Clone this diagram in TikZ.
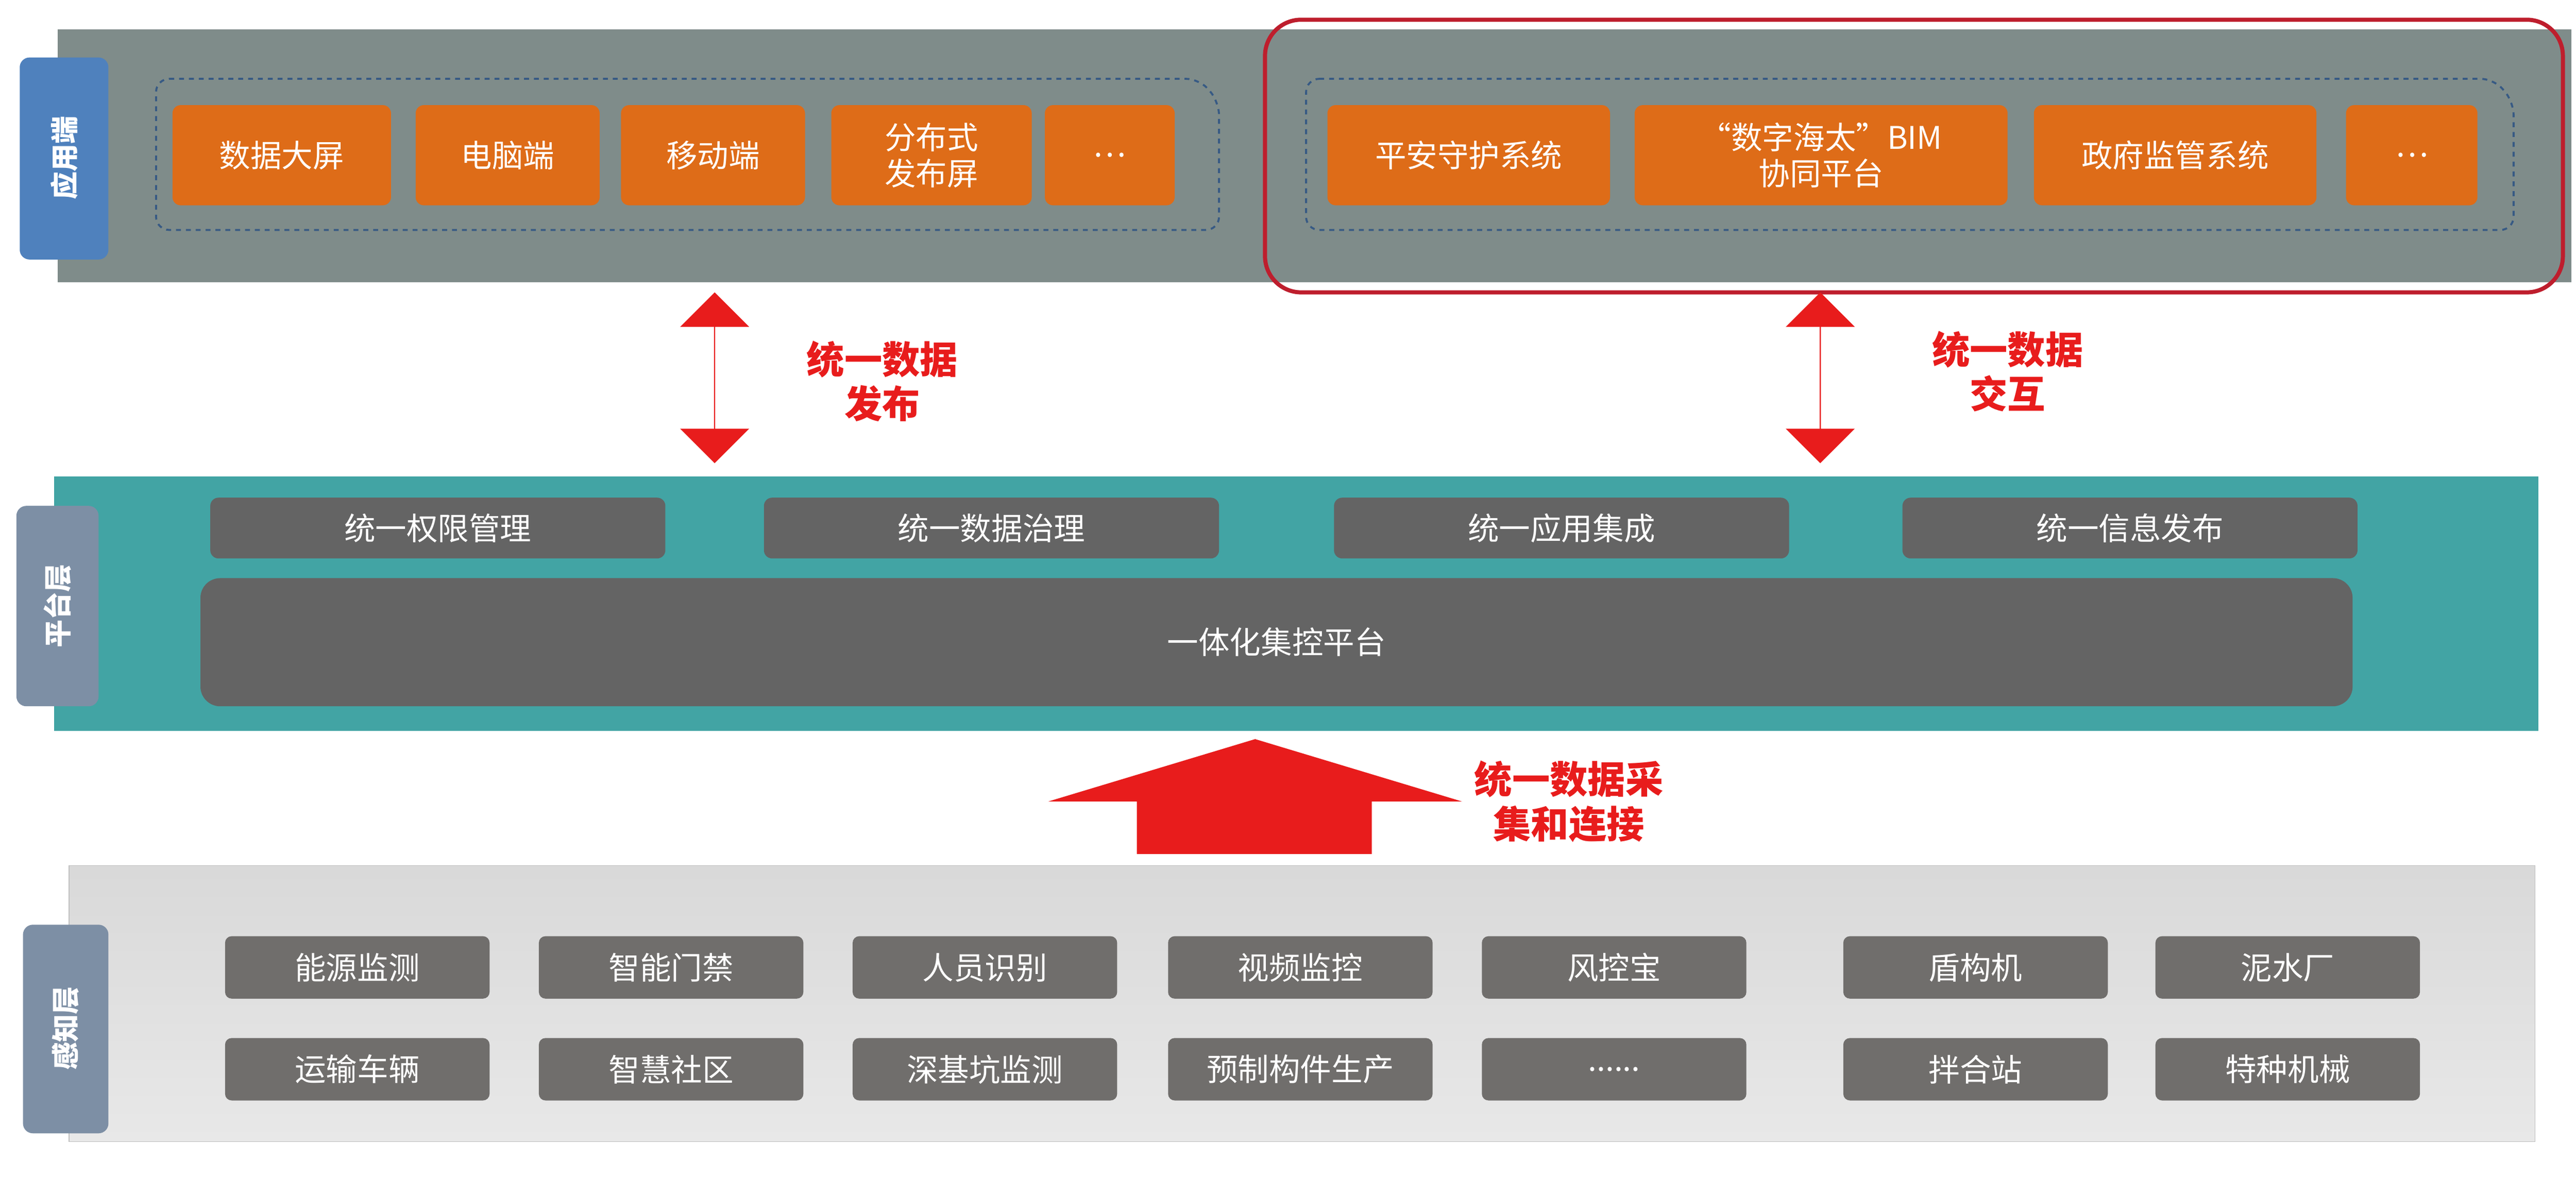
\documentclass[tikz,border=0pt]{standalone}
\usepackage{fontspec}
\setmainfont{Noto Sans CJK SC}
\usetikzlibrary{shapes.arrows}
\definecolor{topg}{RGB}{127,140,138}
\definecolor{org}{RGB}{222,108,24}
\definecolor{teal}{RGB}{66,164,164}
\definecolor{dg}{RGB}{100,100,100}
\definecolor{bg}{RGB}{112,110,108}
\definecolor{tabb}{RGB}{79,129,189}
\definecolor{tabg}{RGB}{125,143,165}
\definecolor{ared}{RGB}{232,28,28}
\definecolor{dred}{RGB}{190,30,45}
\newcommand{\sixdots}{......}
\tikzset{
 ob/.style={draw=none,fill=org,rounded corners=5pt,text=white,font=\fontsize{19}{22}\selectfont,align=center,inner sep=0},
 gb/.style={fill=dg,rounded corners=5pt,text=white,font=\fontsize{19}{22}\selectfont,inner sep=0},
 sb/.style={fill=bg,rounded corners=4pt,text=white,font=\fontsize{19}{22}\selectfont,inner sep=0},
 tab/.style={rounded corners=6pt,text=white,font=\bfseries\fontsize{17}{20}\selectfont},
 lab/.style={text=ared,font=\bfseries\fontsize{23}{27}\selectfont,align=center},
 dbox/.style={draw=tabb!70!black,dashed,line width=1.2pt,rounded corners=8pt}
}
\begin{document}
\begin{tikzpicture}[x=1pt,y=-1pt]
\useasboundingbox (0,0) rectangle (1568,717.8);
\fill[white] (0,0) rectangle (1568,717.8);
% top band
\fill[topg] (35,18) rectangle (1565,172);
\fill[tabb,rounded corners=6pt] (12,35) rectangle (66,158);
\node[tab,rotate=90] (t1) at (39,96) {应用端};
\draw[dbox] (95,48) -- (730,48) -- (742,62) -- (742,140) -- (95,140) -- cycle;
\draw[dbox] (795,48) -- (1518,48) -- (1530,62) -- (1530,140) -- (795,140) -- cycle;
\draw[dred,line width=2.5pt,rounded corners=22pt] (770,12) rectangle (1560,178);
\foreach \a/\b/\t [count=\i] in {105/238/数据大屏,253/365/电脑端,378/490/移动端,506/628/{分布式\\发布屏},636/715/{…},808/980/平安守护系统,995/1222/{“数字海太”BIM\\协同平台},1238/1410/政府监管系统,1428/1508/{…}}
  \node[ob,minimum width={\b-\a},minimum height=61] (o\i) at ({(\a+\b)/2},94.5) {\t};
% arrows
\node[draw=none,fill=ared,double arrow,double arrow head extend=12pt,minimum width=42pt,minimum height=104pt,rotate=90,inner sep=0] (d1) at (435,230) {};
\node[draw=none,fill=ared,double arrow,double arrow head extend=12pt,minimum width=42pt,minimum height=104pt,rotate=90,inner sep=0] (d2) at (1108,230) {};
\node[lab] (l1) at (537,232) {统一数据\\发布};
\node[lab] (l2) at (1222,226) {统一数据\\交互};
% platform
\fill[teal] (33,290) rectangle (1545,445);
\fill[tabg,rounded corners=6pt] (10,308) rectangle (60,430);
\node[tab,rotate=90] (t2) at (35,369) {平台层};
\foreach \a/\t [count=\i] in {128/统一权限管理,465/统一数据治理,812/统一应用集成,1158/统一信息发布}
  \node[gb,minimum width=277,minimum height=37] (p\i) at ({\a+138.5},321.5) {\t};
\node[gb,rounded corners=12pt,minimum width=1310,minimum height=78] (pb) at (777,391) {一体化集控平台};
% up arrow
\fill[ared] (692,520) -- (692,488) -- (638,488) -- (764,450) -- (890,488) -- (835,488) -- (835,520) -- cycle;
\node[lab] (l3) at (955,488) {统一数据采\\集和连接};
% bottom
\shade[top color=gray!30,bottom color=gray!18,draw=gray!50] (42,527) rectangle (1543,695);
\fill[tabg,rounded corners=6pt] (14,563) rectangle (66,690);
\node[tab,rotate=90] (t3) at (40,626) {感知层};
\foreach \a/\t [count=\i] in {137/能源监测,328/智能门禁,519/人员识别,711/视频监控,902/风控宝,1122/盾构机,1312/泥水厂}
  \node[sb,minimum width=161,minimum height=38] (s\i) at ({\a+80.5},589) {\t};
\foreach \a/\t [count=\i] in {137/运输车辆,328/智慧社区,519/深基坑监测,711/预制构件生产,902/{\sixdots},1122/拌合站,1312/特种机械}
  \node[sb,minimum width=161,minimum height=38] (r\i) at ({\a+80.5},651) {\t};
\end{tikzpicture}
\end{document}
